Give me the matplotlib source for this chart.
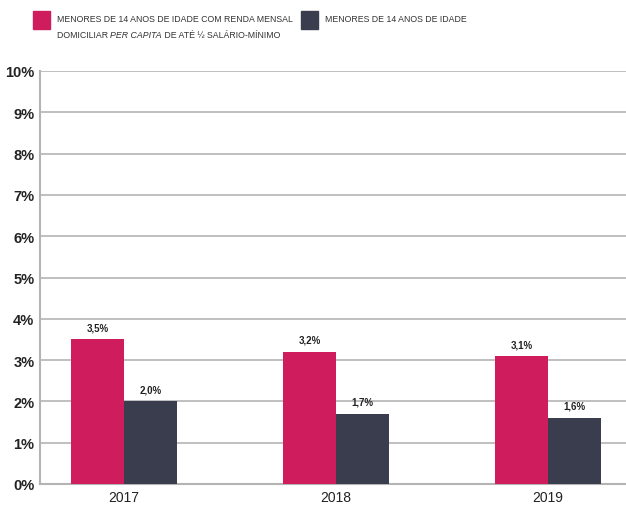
import matplotlib
matplotlib.use("Agg")
import matplotlib.pyplot as plt
from matplotlib import font_manager
import numpy as np
from matplotlib.patches import Rectangle

years = ["2017", "2018", "2019"]
renda_baixa = [3.5, 3.2, 3.1]
menores = [2.0, 1.7, 1.6]
yticks = list(range(0, 11))

pink = "#cf1c5c"
dark = "#3a3d4d"
grid_c = "#b4b4b4"

names = {f.name for f in font_manager.fontManager.ttflist}
narrow = "Liberation Sans Narrow" if "Liberation Sans Narrow" in names else "Liberation Sans"
plt.rcParams["font.family"] = [narrow, "DejaVu Sans"]

fig = plt.figure(figsize=(6.26, 5.06), dpi=100)
ax = fig.add_axes([40 / 626, 21 / 506, 586 / 626, 413 / 506])

x = np.arange(len(years))
w = 0.25
b1 = ax.bar(x - w / 2, renda_baixa, w, color=pink, zorder=3)
b2 = ax.bar(x + w / 2, menores, w, color=dark, zorder=3)

for bars, vals in ((b1, renda_baixa), (b2, menores)):
    for r, v in zip(bars, vals):
        ax.annotate(f"{v:.1f}%".replace(".", ","),
                    (r.get_x() + r.get_width() / 2, v),
                    xytext=(0, 5), textcoords="offset points",
                    ha="center", va="bottom", fontsize=7, fontweight="bold",
                    color="#222222")

ax.set_xlim(-0.396, 2.368)
ax.set_ylim(0, 10)
ax.set_yticks(yticks)
ax.set_yticklabels([f"{t}%" for t in yticks], fontsize=10.5, fontweight="bold",
                   color="#222222")
ax.set_xticks(x)
ax.set_xticklabels(years, fontsize=10, color="#222222")
ax.tick_params(length=0, pad=4)
ax.yaxis.grid(True, color=grid_c, linewidth=1.2, zorder=0)
for s in ("top", "right"):
    ax.spines[s].set_visible(False)
ax.spines["left"].set_color(grid_c)
ax.spines["left"].set_linewidth(1.5)
ax.spines["bottom"].set_color(grid_c)
ax.spines["bottom"].set_linewidth(1.5)

# legend, font sized so the first line fits before the second swatch
renderer = fig.canvas.get_renderer()
fs = 8
probe = fig.text(0, 0, "MENORES DE 14 ANOS DE IDADE COM RENDA MENSAL", fontsize=fs)
pw = probe.get_window_extent(renderer=renderer).width
probe.remove()
fs = fs * 234 / pw

fig.patches.append(Rectangle((33 / 626, 1 - 30 / 506), 17 / 626, 18 / 506,
                             transform=fig.transFigure, color=pink))
fig.patches.append(Rectangle((301 / 626, 1 - 30 / 506), 17 / 626, 18 / 506,
                             transform=fig.transFigure, color=dark))
fig.text(57 / 626, 1 - 20 / 506, "MENORES DE 14 ANOS DE IDADE COM RENDA MENSAL",
         fontsize=fs, va="center", color="#333333")
fig.text(325 / 626, 1 - 20 / 506, "MENORES DE 14 ANOS DE IDADE",
         fontsize=fs, va="center", color="#333333")

xpos = 57 / 626
ypos = 1 - 35 / 506
for part, style in (("DOMICILIAR ", "normal"), ("PER CAPITA", "italic"),
                    (" DE ATÉ ½ SALÁRIO-MÍNIMO", "normal")):
    t = fig.text(xpos, ypos, part, fontsize=fs, va="center", style=style,
                 color="#333333")
    bb = t.get_window_extent(renderer=renderer)
    xpos += bb.width / fig.bbox.width

fig.savefig("out.png", dpi=100)
